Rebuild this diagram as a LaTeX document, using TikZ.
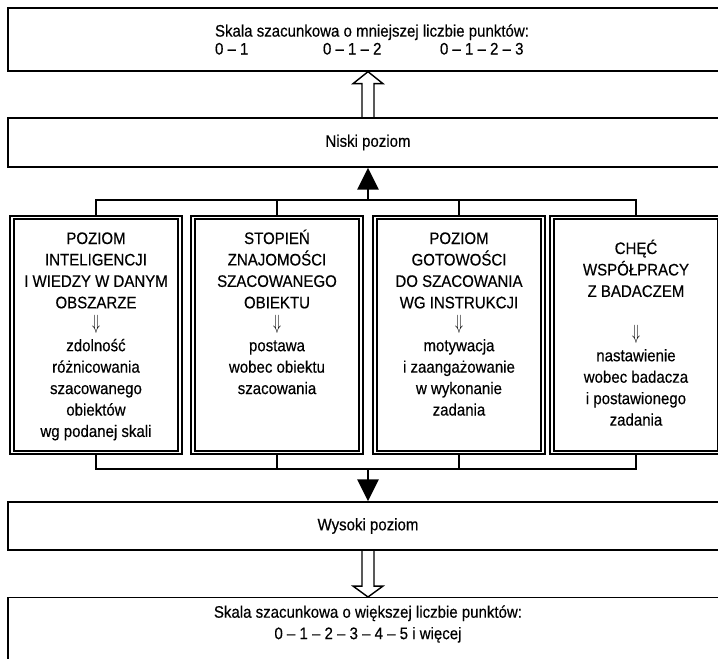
\documentclass[tikz,border=0pt]{standalone}
\usepackage{fontspec}
\setmainfont{Liberation Sans}[FakeStretch=0.9, FakeBold=0.4]
\usetikzlibrary{arrows.meta,calc}

\newcommand{\kolumnatekst}[1]{\parbox[c][4.24cm][t]{3.3cm}{\centering #1}}
\newcommand{\wynika}{\scalebox{0.8}[1.3]{$\Downarrow$}}

\begin{document}
\begin{tikzpicture}[x=0.02cm, y=-0.02cm,
	every node/.style={font=\fontsize{9.5}{12.2}\selectfont},
	szeroki/.style={draw, line width=0.8pt, minimum width=14.4cm, inner sep=0pt},
	kolumna/.style={draw, double, line width=0.9pt, double distance=1.1pt, minimum width=3.36cm, minimum height=4.7cm, inner sep=0pt},
	szyna/.style={line width=1.5pt},
	czarna/.style={szyna, -{Triangle[length=0.44cm, width=0.42cm]}},
	pusta/.style={line width=0.8pt}]

	\useasboundingbox (0,0) rectangle (718,659);

	%the two scales and the two levels
	\node[szeroki, minimum height=1.26cm] (skalaMala) at (368,39.5)
		{\hspace*{0.28cm}\raisebox{-0.18cm}{\parbox{6.4cm}{\raggedright Skala szacunkowa o mniejszej liczbie punktów:\\[-2pt]
		\makebox[2.16cm][l]{0 – 1}\makebox[2.34cm][l]{0 – 1 – 2}0 – 1 – 2 – 3}}};
	\node[szeroki, minimum height=0.98cm] (niski) at (368,142.5) {Niski poziom};
	\node[szeroki, minimum height=0.96cm] (wysoki) at (368,526) {Wysoki poziom};
	\node[szeroki, minimum height=1.7cm, anchor=north] (skalaDuza) at (368,597)
		{\parbox[c][1.5cm][t]{8cm}{\centering\strut Skala szacunkowa o większej liczbie punktów:\\
		0 – 1 – 2 – 3 – 4 – 5 i więcej}};

	%the four factors
	\foreach \name/\position/\txt in {
		b1/96/{\strut POZIOM\\INTELIGENCJI\\I WIEDZY W DANYM\\OBSZARZE\\\wynika\\zdolność\\różnicowania\\szacowanego\\obiektów\\wg podanej skali},
		b2/277/{\strut STOPIEŃ\\ZNAJOMOŚCI\\SZACOWANEGO\\OBIEKTU\\\wynika\\postawa\\wobec obiektu\\szacowania},
		b3/459/{\strut POZIOM\\GOTOWOŚCI\\DO SZACOWANIA\\WG INSTRUKCJI\\\wynika\\motywacja\\i zaangażowanie\\w wykonanie\\zadania},
		b4/636/{\vspace*{0.2cm}\strut CHĘĆ\\WSPÓŁPRACY\\Z BADACZEM\\[0.43cm]\wynika\\nastawienie\\wobec badacza\\i postawionego\\zadania}}
	{
		\node[kolumna] (\name) at (\position,335) {\kolumnatekst{\txt}};
	}

	%bus lines
	\coordinate (gora) at (368,200);
	\coordinate (dol) at (368,469);
	\draw[szyna] (b1.north) |- (b4.north |- gora) -- (b4.north);
	\draw[szyna] (b1.south) |- (b4.south |- dol) -- (b4.south);
	\foreach \name in {b2,b3}
	{
		\draw[szyna] (\name.north) -- (\name.north |- gora);
		\draw[szyna] (\name.south) -- (\name.south |- dol);
	}

	%Arrows
	\draw[czarna] (gora) -- (niski.south);
	\draw[czarna] (dol) -- (wysoki.north);

	\draw[pusta] let \p1=(niski.north), \p2=(skalaMala.south) in
		(\x1-3.4pt,\y1) -- (\x1-3.4pt,\y2-6.8pt) -- (\x1-8.5pt,\y2-6.8pt) -- (\x1,\y2)
		-- (\x1+8.5pt,\y2-6.8pt) -- (\x1+3.4pt,\y2-6.8pt) -- (\x1+3.4pt,\y1);
	\draw[pusta] let \p1=(wysoki.south), \p2=(skalaDuza.north) in
		(\x1-3.4pt,\y1) -- (\x1-3.4pt,\y2+6.2pt) -- (\x1-8.5pt,\y2+6.2pt) -- (\x1,\y2)
		-- (\x1+8.5pt,\y2+6.2pt) -- (\x1+3.4pt,\y2+6.2pt) -- (\x1+3.4pt,\y1);

\end{tikzpicture}
\end{document}
